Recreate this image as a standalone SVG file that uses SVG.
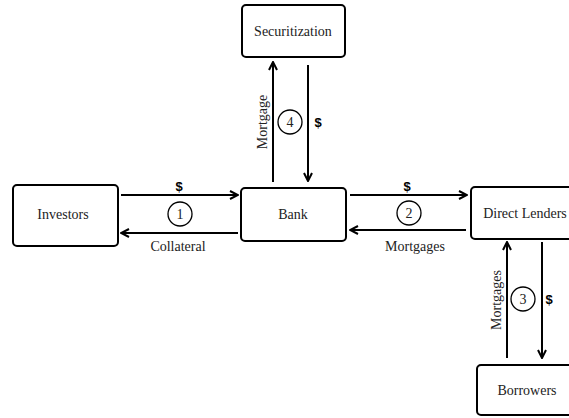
<svg xmlns="http://www.w3.org/2000/svg" width="569" height="418" viewBox="0 0 569 418">
<style>
.box{fill:#fff;stroke:#000;stroke-width:2}
.lbl{font-family:"Liberation Serif",serif;font-size:14px;fill:#222;text-anchor:middle;dominant-baseline:central}
.ar{stroke:#000;stroke-width:2;fill:none;marker-end:url(#ah)}
.num{fill:#fff;stroke:#000;stroke-width:1.3}
.dol{font-family:"Liberation Sans",sans-serif;font-weight:bold;font-size:13px;fill:#000;text-anchor:middle;dominant-baseline:central}
</style>
<defs>
<marker id="ah" viewBox="0 0 10 10" refX="9" refY="5" markerWidth="10" markerHeight="10" markerUnits="userSpaceOnUse" orient="auto">
<path d="M1,1 L9,5 L1,9" fill="none" stroke="#000" stroke-width="2"/>
</marker>
</defs>
<g id="connectors">
<line class="ar" x1="121" y1="195" x2="238" y2="195"/>
<line class="ar" x1="238" y1="233" x2="121" y2="233"/>
<circle class="num" cx="180" cy="214" r="12"/>
<text class="lbl" x="180" y="214">1</text>
<text class="dol" x="179" y="186">$</text>
<text class="lbl" x="178" y="246">Collateral</text>

<line class="ar" x1="350" y1="195" x2="467" y2="195"/>
<line class="ar" x1="466" y1="230" x2="350" y2="230"/>
<circle class="num" cx="409" cy="213" r="12"/>
<text class="lbl" x="409" y="213">2</text>
<text class="dol" x="407" y="186">$</text>
<text class="lbl" x="415" y="246">Mortgages</text>

<line class="ar" x1="273" y1="182" x2="273" y2="62"/>
<line class="ar" x1="308" y1="65" x2="308" y2="181"/>
<circle class="num" cx="290" cy="122" r="12"/>
<text class="lbl" x="290" y="122">4</text>
<text class="dol" x="318" y="122">$</text>
<text class="lbl" transform="translate(262,122) rotate(-90)">Mortgage</text>

<line class="ar" x1="507" y1="358" x2="507" y2="242"/>
<line class="ar" x1="542" y1="242" x2="542" y2="358"/>
<circle class="num" cx="523" cy="299" r="12"/>
<text class="lbl" x="523" y="299">3</text>
<text class="dol" x="549" y="299">$</text>
<text class="lbl" transform="translate(496,300) rotate(-90)">Mortgages</text>
</g>
<g id="securitization"><rect class="box" x="242" y="5" width="103" height="52" rx="4"/><text class="lbl" x="293" y="31">Securitization</text></g>
<g id="investors"><rect class="box" x="13" y="185" width="105" height="61" rx="4"/><text class="lbl" x="63" y="214">Investors</text></g>
<g id="bank"><rect class="box" x="241" y="188" width="105" height="53" rx="4"/><text class="lbl" x="293" y="214">Bank</text></g>
<g id="direct-lenders"><rect class="box" x="471" y="187" width="110" height="52" rx="4"/><text class="lbl" x="525" y="213">Direct Lenders</text></g>
<g id="borrowers"><rect class="box" x="477" y="365" width="102" height="50" rx="4"/><text class="lbl" x="527" y="390">Borrowers</text></g>
</svg>
